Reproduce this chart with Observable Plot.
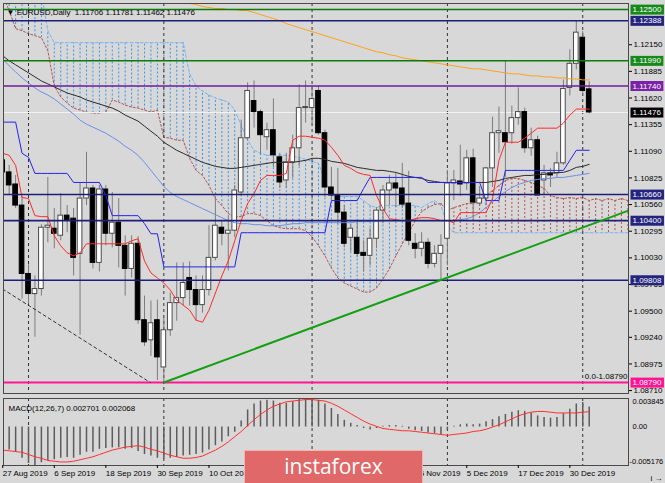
<!DOCTYPE html>
<html><head><meta charset="utf-8">
<script src="https://cdn.jsdelivr.net/npm/d3@7"></script>
<script src="https://cdn.jsdelivr.net/npm/@observablehq/plot@0.6"></script>
<style>
html,body{margin:0;padding:0;background:#d8d8d8;}
#wrap{position:relative;width:665px;height:483px;overflow:hidden;background:#d8d8d8;}
#wrap svg{display:block;}
#wm{position:absolute;left:244px;top:450px;width:179px;height:33px;background:#e06868;border:1px solid #f2b3b3;border-bottom:none;color:#fff;font:21px "Open Sans","Liberation Sans",sans-serif;text-align:center;line-height:31px;box-sizing:border-box;}
</style></head><body><div id="wrap"></div>
<script>
// ---------- DATA ----------
const dates = ["2019-08-27","2019-08-28","2019-08-29","2019-08-30","2019-09-02","2019-09-03","2019-09-04","2019-09-05","2019-09-06","2019-09-09",
"2019-09-10","2019-09-11","2019-09-12","2019-09-13","2019-09-16","2019-09-17","2019-09-18","2019-09-19","2019-09-20","2019-09-23",
"2019-09-24","2019-09-25","2019-09-26","2019-09-27","2019-09-30","2019-10-01","2019-10-02","2019-10-03","2019-10-04","2019-10-07",
"2019-10-08","2019-10-09","2019-10-10","2019-10-11","2019-10-14","2019-10-15","2019-10-16","2019-10-17","2019-10-18","2019-10-21",
"2019-10-22","2019-10-23","2019-10-24","2019-10-25","2019-10-28","2019-10-29","2019-10-30","2019-10-31","2019-11-01","2019-11-04",
"2019-11-05","2019-11-06","2019-11-07","2019-11-08","2019-11-11","2019-11-12","2019-11-13","2019-11-14","2019-11-15","2019-11-18",
"2019-11-19","2019-11-20","2019-11-21","2019-11-22","2019-11-25","2019-11-26","2019-11-27","2019-11-28","2019-11-29","2019-12-02",
"2019-12-03","2019-12-04","2019-12-05","2019-12-06","2019-12-09","2019-12-10","2019-12-11","2019-12-12","2019-12-13","2019-12-16",
"2019-12-17","2019-12-18","2019-12-19","2019-12-20","2019-12-23","2019-12-24","2019-12-26","2019-12-27","2019-12-30","2019-12-31",
"2020-01-02","2020-01-03"];
const open = [1.1100,1.1088,1.1076,1.1055,1.0987,1.0967,1.0972,1.1033,1.1032,1.1025,
1.1045,1.1042,1.1007,1.1062,1.1072,1.0998,1.1071,1.1027,1.1038,1.1015,
1.0992,1.1017,1.0941,1.0921,1.0941,1.0894,1.0931,1.0958,1.0963,1.0983,
1.0971,1.0956,1.0971,1.1003,1.1033,1.1027,1.1030,1.1068,1.1122,1.1159,
1.1148,1.1123,1.1130,1.1103,1.1080,1.1098,1.1112,1.1152,1.1152,1.1169,
1.1127,1.1073,1.1065,1.1048,1.1023,1.1023,1.1008,1.1005,1.1022,1.1050,
1.1070,1.1077,1.1072,1.1057,1.1017,1.1012,1.1018,1.0997,1.1007,1.1022,
1.1077,1.1079,1.1077,1.1102,1.1057,1.1062,1.1092,1.1127,1.1127,1.1127,
1.1142,1.1148,1.1112,1.1120,1.1080,1.1087,1.1087,1.1097,1.1172,1.1196,
1.1222,1.11706];
const high = [1.1115,1.1095,1.1085,1.1064,1.0996,1.0985,1.1036,1.1083,1.1052,1.1067,
1.1055,1.1052,1.1077,1.1108,1.1075,1.1075,1.1075,1.1068,1.1062,1.1025,
1.1025,1.1024,1.0965,1.0960,1.0961,1.0943,1.0968,1.0998,1.0998,1.0999,
1.0985,1.0985,1.1035,1.1063,1.1040,1.1045,1.1075,1.1140,1.1177,1.1179,
1.1150,1.1137,1.1161,1.1107,1.1107,1.1125,1.1175,1.1179,1.1174,1.1174,
1.1130,1.1093,1.1092,1.1055,1.1036,1.1040,1.1020,1.1032,1.1053,1.1075,
1.1085,1.1087,1.1097,1.1089,1.1027,1.1028,1.1022,1.1015,1.1026,1.1090,
1.1090,1.1115,1.1110,1.1111,1.1074,1.1093,1.1143,1.1153,1.1199,1.1154,
1.1172,1.1152,1.1132,1.1124,1.1095,1.1092,1.1108,1.1180,1.1210,1.1239,
1.1228,1.11781];
const low = [1.1076,1.1065,1.1052,1.0962,1.0957,1.0924,1.0965,1.1018,1.1012,1.1020,
1.1028,1.0985,1.0926,1.1055,1.0992,1.0989,1.1015,1.1013,1.0993,1.0965,
1.0983,1.0937,1.0915,1.0905,1.0881,1.0879,1.0925,1.0940,1.0955,1.0955,
1.0940,1.0948,1.0965,1.1000,1.1015,1.0990,1.1023,1.1064,1.1120,1.1132,
1.1106,1.1110,1.1093,1.1072,1.1072,1.1082,1.1094,1.1137,1.1135,1.1125,
1.1063,1.1060,1.1036,1.1013,1.1009,1.1003,1.0989,1.0995,1.1012,1.1037,
1.1055,1.1053,1.1052,1.1015,1.1002,1.1004,1.0992,1.0993,1.0981,1.0995,
1.1060,1.1064,1.1070,1.1040,1.1054,1.1055,1.1073,1.1107,1.1083,1.1116,
1.1135,1.1107,1.1104,1.1065,1.1066,1.1073,1.1083,1.1095,1.1164,1.1190,
1.1164,1.11462];
const close = [1.1088,1.1075,1.1055,1.0987,1.0967,1.0972,1.1033,1.1035,1.1027,1.1045,
1.1040,1.1003,1.1062,1.1072,1.0998,1.1071,1.1027,1.1038,1.1015,1.0992,
1.1017,1.0941,1.0919,1.0938,1.0904,1.0931,1.0958,1.0963,1.0978,1.0971,
1.0956,1.0971,1.1003,1.1035,1.1027,1.1030,1.1070,1.1122,1.1169,1.1148,
1.1125,1.1130,1.1105,1.1078,1.1098,1.1112,1.1152,1.1153,1.1161,1.1127,
1.1073,1.1065,1.1048,1.1017,1.1032,1.1007,1.1005,1.1022,1.1050,1.1070,
1.1077,1.1072,1.1056,1.1020,1.1012,1.1018,1.0997,1.1007,1.1015,1.1077,
1.1080,1.1076,1.1102,1.1058,1.1062,1.1092,1.1127,1.1129,1.1118,1.1142,
1.1148,1.1112,1.1120,1.1065,1.1087,1.1085,1.1097,1.1171,1.1196,1.1227,
1.1169,1.11476];

// Ichimoku
const tenkan = [1.1107,1.1105,1.1095,1.1063,1.1062,1.1045,1.1044,1.1044,1.1025,1.1015,
1.1008,1.1005,1.1008,1.1017,1.1017,1.1017,1.1017,1.1017,1.1017,1.1017,
1.1020,1.1022,1.1000,1.0988,1.0983,1.0978,1.0971,1.0961,1.0956,1.0951,
1.0941,1.0939,1.0951,1.0968,1.0985,1.1000,1.1020,1.1040,1.1057,1.1067,
1.1080,1.1085,1.1085,1.1085,1.1087,1.1120,1.1124,1.1124,1.1123,1.1122,
1.1120,1.1113,1.1105,1.1095,1.1092,1.1088,1.1086,1.1085,1.1065,1.1052,
1.1042,1.1041,1.1040,1.1040,1.1042,1.1043,1.1043,1.1042,1.1040,1.1040,
1.1038,1.1048,1.1048,1.1048,1.1048,1.1048,1.1062,1.1100,1.1118,1.1118,
1.1118,1.1122,1.1127,1.1132,1.1132,1.1132,1.1132,1.1137,1.1145,1.1151,
1.1151,1.1151];
const kijun = [1.1138,1.1138,1.1138,1.1107,1.1103,1.1087,1.1087,1.1087,1.1087,1.1087,
1.1087,1.1078,1.1078,1.1078,1.1078,1.1078,1.1065,1.1045,1.1045,1.1045,
1.1045,1.1045,1.1037,1.1027,1.1027,1.0994,1.0994,1.0994,1.0994,1.0994,
1.0994,1.0994,1.0994,1.0994,1.0994,1.0994,1.0994,1.1028,1.1028,1.1028,
1.1028,1.1028,1.1028,1.1028,1.1028,1.1028,1.1028,1.1028,1.1028,1.1028,
1.1028,1.1060,1.1060,1.1060,1.1060,1.1060,1.1072,1.1083,1.1083,1.1083,
1.1083,1.1083,1.1083,1.1083,1.1083,1.1083,1.1078,1.1078,1.1078,1.1078,
1.1078,1.1078,1.1078,1.1078,1.1078,1.1060,1.1060,1.1060,1.1090,1.1090,
1.1090,1.1090,1.1090,1.1090,1.1090,1.1090,1.1090,1.1090,1.1100,1.1110,
1.1110,1.1110];
// Senkou spans (shifted 26 bars forward: 98 values)
const spanA = [1.1264,1.1249,1.1231,1.1229,1.1226,1.1224,1.1222,1.1209,1.1174,1.1163,
1.1157,1.1152,1.1150,1.1148,1.1147,1.1147,1.1148,1.1160,1.1158,1.1155,
1.1153,1.1152,1.1150,1.1148,1.1150,1.1123,1.1122,1.1120,1.1120,1.1102,
1.1090,1.1085,1.1075,1.1062,1.1055,1.1047,1.1044,1.1044,1.1047,1.1047,
1.1045,1.1040,1.1035,1.1033,1.1032,1.1032,1.1032,1.1030,1.1024,1.1015,
1.1005,1.0993,1.0983,1.0978,1.0975,1.0972,1.0969,1.0969,1.0973,1.0982,
1.0992,1.1005,1.1017,1.1028,1.1040,1.1049,1.1053,1.1056,1.1057,1.1050,
1.1053,1.1055,1.1057,1.1057,1.1060,1.1065,1.1070,1.1075,1.1080,1.1082,
1.1082,1.1080,1.1078,1.1075,1.1072,1.1065,1.1063,1.1062,1.1063,1.1062,
1.1063,1.1060,1.1062,1.1060,1.1062,1.1060,1.1062,1.1060];
const spanB = [1.1265,1.1265,1.1265,1.1265,1.1265,1.1265,1.1265,1.1229,1.1217,1.1217,
1.1217,1.1217,1.1217,1.1217,1.1217,1.1217,1.1217,1.1217,1.1217,1.1217,
1.1217,1.1217,1.1217,1.1217,1.1217,1.1217,1.1217,1.1217,1.1217,1.1186,
1.1174,1.1169,1.1165,1.1162,1.1160,1.1158,1.1150,1.1135,1.1120,1.1110,
1.1107,1.1105,1.1105,1.1105,1.1105,1.1104,1.1103,1.1101,1.1099,1.1097,
1.1080,1.1065,1.1064,1.1064,1.1064,1.1064,1.1060,1.1055,1.1053,1.1055,
1.1055,1.1055,1.1055,1.1055,1.1055,1.1053,1.1057,1.1060,1.1055,1.1035,
1.1028,1.1028,1.1028,1.1028,1.1028,1.1028,1.1028,1.1028,1.1028,1.1028,
1.1028,1.1028,1.1028,1.1028,1.1028,1.1028,1.1028,1.1028,1.1028,1.1028,
1.1028,1.1028,1.1028,1.1028,1.1028,1.1028,1.1028,1.1028];
// moving averages
const maBlack = [1.1204,1.1199,1.1195,1.1191,1.1187,1.1183,1.1179,1.1176,1.1173,1.1170,
1.1167,1.1165,1.1163,1.1160,1.1158,1.1156,1.1154,1.1152,1.1149,1.1145,
1.1142,1.1139,1.1134,1.1129,1.1124,1.1118,1.1114,1.1110,1.1107,1.1104,
1.1101,1.1098,1.1096,1.1094,1.1093,1.1092,1.1092,1.1093,1.1094,1.1095,
1.1096,1.1097,1.1098,1.1098,1.1098,1.1098,1.1099,1.1100,1.1102,1.1102,
1.1101,1.1099,1.1098,1.1097,1.1095,1.1093,1.1092,1.1091,1.1090,1.1090,
1.1089,1.1088,1.1086,1.1084,1.1083,1.1082,1.1080,1.1079,1.1078,1.1078,
1.1078,1.1078,1.1078,1.1078,1.1078,1.1078,1.1079,1.1080,1.1082,1.1083,
1.1084,1.1085,1.1085,1.1086,1.1086,1.1087,1.1088,1.1088,1.1090,1.1093,
1.1094,1.1096];
const maBlue = [1.1201,1.1194,1.1188,1.1182,1.1177,1.1172,1.1168,1.1165,1.1161,1.1156,
1.1151,1.1146,1.1140,1.1136,1.1133,1.1130,1.1127,1.1123,1.1119,1.1114,
1.1110,1.1105,1.1098,1.1090,1.1082,1.1074,1.1068,1.1064,1.1061,1.1058,
1.1055,1.1052,1.1049,1.1046,1.1043,1.1040,1.1038,1.1037,1.1037,1.1036,
1.1036,1.1035,1.1035,1.1035,1.1036,1.1037,1.1037,1.1038,1.1038,1.1038,
1.1038,1.1038,1.1038,1.1038,1.1038,1.1039,1.1039,1.1039,1.1039,1.1040,
1.1040,1.1040,1.1040,1.1040,1.1040,1.1040,1.1040,1.1040,1.1040,1.1040,
1.1040,1.1041,1.1042,1.1044,1.1048,1.1053,1.1059,1.1064,1.1069,1.1073,
1.1076,1.1078,1.1080,1.1081,1.1082,1.1082,1.1083,1.1083,1.1084,1.1085,
1.1086,1.1087];
const maOrange = [null,null,null,null,null,null,null,null,null,null,
null,null,null,null,null,null,null,null,null,null,
null,null,null,null,null,null,null,null,1.1258,1.1256,
1.1255,1.1253,1.1252,1.1251,1.1251,1.1250,1.1250,1.1249,1.1249,1.1247,
1.1245,1.1243,1.1241,1.1239,1.1236,1.1234,1.1232,1.1230,1.1228,1.1226,
1.1224,1.1222,1.1220,1.1218,1.1216,1.1214,1.1212,1.1210,1.1208,1.1207,
1.1205,1.1204,1.1202,1.1201,1.1200,1.1199,1.1198,1.1197,1.1196,1.1195,
1.1194,1.1193,1.1192,1.1191,1.1191,1.1190,1.1189,1.1188,1.1187,1.1186,
1.1186,1.1185,1.1184,1.1184,1.1183,1.1183,1.1182,1.1182,1.1181,1.1181,
1.1180,1.1180];
// MACD(12,26,7)
const macdMain = [-0.0030,-0.0031,-0.0034,-0.0042,-0.0049,-0.005176,-0.0048,-0.0045,-0.0044,-0.0042,
-0.0041,-0.0042,-0.0038,-0.0034,-0.0034,-0.0030,-0.0029,-0.0028,-0.0028,-0.0030,
-0.0029,-0.0033,-0.0037,-0.0039,-0.0042,-0.0043,-0.0042,-0.0041,-0.0039,-0.0038,
-0.0037,-0.0035,-0.0031,-0.0025,-0.0020,-0.0013,-0.0007,0.0008,0.0023,0.0031,
0.0035,0.0036,0.0035,0.0032,0.0032,0.0034,0.0037,0.0037,0.003845,0.0036,
0.0031,0.0025,0.0017,0.0009,0.0005,0.0002,-0.0002,-0.0004,-0.0002,0.0001,
0.0002,0.0002,0.0001,-0.0003,-0.0005,-0.0006,-0.0008,-0.0009,-0.0010,-0.0004,
0.0001,0.0003,0.0004,0.0003,0.0004,0.0007,0.0010,0.0014,0.0017,0.0020,
0.0022,0.0021,0.0019,0.0015,0.0013,0.0012,0.0013,0.0018,0.0024,0.0031,
0.0033,0.002701];
const macdSignal = [-0.0031,-0.0032,-0.0033,-0.0034,-0.0037,-0.0040,-0.0042,-0.0045,-0.0046,-0.0047,
-0.0047,-0.0046,-0.0044,-0.0042,-0.0040,-0.0037,-0.0034,-0.0031,-0.0029,-0.0027,
-0.0026,-0.0025,-0.0027,-0.0030,-0.0032,-0.0035,-0.0038,-0.0040,-0.0042,-0.0042,
-0.0041,-0.0039,-0.0035,-0.0031,-0.0026,-0.0020,-0.0013,-0.0006,0.0002,0.0010,
0.0017,0.0023,0.0028,0.0031,0.0034,0.0035,0.0036,0.0037,0.0037,0.0036,
0.0035,0.0032,0.0028,0.0023,0.0018,0.0013,0.0008,0.0004,0.0001,-0.0002,
-0.0003,-0.0004,-0.0005,-0.0005,-0.0006,-0.0007,-0.0008,-0.0009,-0.0010,-0.0011,
-0.0010,-0.0009,-0.0008,-0.0006,-0.0005,-0.0003,0.0000,0.0003,0.0007,0.0011,
0.0015,0.0018,0.0020,0.0021,0.0021,0.0020,0.0019,0.0019,0.0019,0.0019,
0.0020,0.002068];
const macdRange = [-0.005176, 0.003845];

// levels & trend lines
const greenLevels = [1.12500, 1.11990];
const navyLevels = [1.12388, 1.10660, 1.10400, 1.09808];
const purpleLevels = [1.11740];
const fibLevels = [1.08790];
const lastPrice = 1.11476;
const trendUp = [{i:25, p:1.0879}, {i:97.1, p:1.1050}];
const trendDash = [{i:0, p:1.0972}, {i:22.9, p:1.0879}];

// axes
const priceRange = [1.08681, 1.12560];
const viewRange = [0.12, 97.1];
const priceTicks = [1.12150,1.11885,1.11620,1.11355,1.11090,1.10825,1.10560,1.10295,1.10030,1.09765,1.09500,1.09240,1.08975,1.08710];
const dateTickIdx = [0,8,16,24,32,40,48,56,64,72,80,88];
const titleText = "\u25BC EURUSD,Daily  1.11706 1.11781 1.11462 1.11476";
const macdTitle = "MACD(12,26,7) 0.002701 0.002068";
const fibText = "0.0-1.08790";

// ---------- CHECK ----------
const N = dates.length;
[open,high,low,close,tenkan,kijun,maBlack,maBlue,maOrange,macdMain,macdSignal].forEach((a,k)=>{ if(a.length!==N) throw new Error("len mismatch "+k+" "+a.length); });
if (spanA.length!==98 || spanB.length!==98) throw new Error("span len "+spanA.length+" "+spanB.length);

// ---------- BUILD ----------
const FONT = "'Liberation Sans', Arial, sans-serif";
const C = {bg:"#d8d8d8", green:"#0b7a0b", greenBox:"#17891a", navy:"#1e1e78", navyBox:"#24247e",
  purple:"#6c1c9c", purpleBox:"#7a23a8", fib:"#ff1493", bull:"#ffffff", bear:"#000000", wick:"#7c7c7c",
  tenkan:"#ff2a2a", kijun:"#2323f0", maBlack:"#2b2b2b", maBlue:"#6b8fe8", orange:"#ffa21a",
  cloudUp:"#b8524c", cloudDn:"#3b95ea", spanB:"#78b4f2", trend:"#12a012"};

const bars = dates.map((d,i)=>({i, o:open[i], h:high[i], l:low[i], c:close[i]}));
const cloud = spanA.map((a,i)=>({i, a, b:spanB[i]}));
const series = arr => arr.map((v,i)=>({i, v})).filter(d=>d.v!=null);
const monthStarts = dates.map((d,i)=> i>0 && d.slice(5,7)!==dates[i-1].slice(5,7) ? i : null).filter(v=>v!=null);
const levels = [
  ...greenLevels.map(p=>({p, g:"green"})),
  ...navyLevels.map(p=>({p, g:"navy"})),
  ...purpleLevels.map(p=>({p, g:"purple"})),
  ...fibLevels.map(p=>({p, g:"fib"}))];
const lineColor = {green:C.green, navy:C.navy, purple:C.purple, fib:C.fib};
const boxColor = {green:C.greenBox, navy:C.navyBox, purple:C.purpleBox, fib:C.fib, last:"#000"};
const boxLabels = [...levels, {p:lastPrice, g:"last"}];
const fmtDate = d3.utcFormat("%-d %b %Y");
const BW = 0.36;

const main = Plot.plot({
  width:665, height:395, marginLeft:3, marginRight:37, marginTop:3, marginBottom:2,
  style:{background:C.bg, fontFamily:FONT, fontSize:"8px", overflow:"visible"},
  x:{domain:viewRange, axis:null},
  y:{domain:priceRange, axis:null},
  marks:[
    Plot.ruleX(cloud, {x:"i", y1:"a", y2:"b", stroke:d=>d.a>=d.b?C.cloudUp:C.cloudDn, strokeWidth:1, strokeDasharray:"2,2", clip:true}),
    Plot.line(cloud, {x:"i", y:"a", stroke:C.cloudUp, strokeWidth:1, strokeDasharray:"2,2", clip:true}),
    Plot.line(cloud, {x:"i", y:"b", stroke:C.spanB, strokeWidth:1, strokeDasharray:"3,2", clip:true}),
    Plot.ruleX(monthStarts, {x:d=>d, stroke:"#333", strokeWidth:1, strokeDasharray:"3,3"}),
    Plot.ruleY([lastPrice], {y:d=>d, stroke:"#f2f2f2", strokeWidth:1}),
    Plot.ruleX(bars, {x:"i", y1:"l", y2:"h", stroke:C.wick, strokeWidth:1, clip:true}),
    Plot.rect(bars, {x1:d=>d.i-BW, x2:d=>d.i+BW, y1:"o", y2:"c", fill:d=>d.c>=d.o?C.bull:C.bear, stroke:d=>d.c>=d.o?"#4a4a4a":"#000", strokeWidth:1, clip:true}),
    Plot.ruleY(bars.filter(d=>Math.abs(d.c-d.o)<0.00006), {x1:d=>d.i-BW, x2:d=>d.i+BW, y:"c", stroke:"#222", clip:true}),
    Plot.line(series(maOrange), {x:"i", y:"v", stroke:C.orange, strokeWidth:1, clip:true}),
    Plot.line(series(maBlue), {x:"i", y:"v", stroke:C.maBlue, strokeWidth:1, clip:true}),
    Plot.line(series(maBlack), {x:"i", y:"v", stroke:C.maBlack, strokeWidth:1, clip:true}),
    Plot.line(series(kijun), {x:"i", y:"v", stroke:C.kijun, strokeWidth:1, clip:true}),
    Plot.line(series(tenkan), {x:"i", y:"v", stroke:C.tenkan, strokeWidth:1, clip:true}),
    Plot.ruleY(levels, {y:"p", stroke:d=>lineColor[d.g], strokeWidth:d=>d.g==="fib"?2:1.6}),
    Plot.line(trendUp, {x:"i", y:"p", stroke:C.trend, strokeWidth:2, clip:true}),
    Plot.line(trendDash, {x:"i", y:"p", stroke:"#333", strokeWidth:1, strokeDasharray:"3,3", clip:true}),
    Plot.frame({stroke:"#4a4a4a", strokeWidth:1}),
    Plot.axisY({anchor:"right", ticks:priceTicks, tickFormat:d=>d.toFixed(5), tickSize:3, tickPadding:2, fontSize:8, fill:"#000", stroke:"#000"}),
    Plot.text(boxLabels, {y:"p", text:d=>d.p.toFixed(5), frameAnchor:"right", textAnchor:"start", dx:4, fill:"#fff", fontSize:8}),
    Plot.text([titleText], {text:d=>d, frameAnchor:"top-left", textAnchor:"start", dx:3, dy:6, fontSize:8, fill:"#000"}),
    Plot.text([fibLevels[0]], {y:d=>d, text:()=>fibText, frameAnchor:"right", textAnchor:"end", dx:-1, dy:-6, fontSize:8, fill:"#000"})
  ]
});

const macd = Plot.plot({
  width:665, height:88, marginLeft:3, marginRight:37, marginTop:3, marginBottom:18,
  style:{background:C.bg, fontFamily:FONT, fontSize:"8px", overflow:"visible"},
  x:{domain:viewRange, axis:null},
  y:{domain:macdRange, axis:null},
  marks:[
    Plot.ruleX(monthStarts, {x:d=>d, stroke:"#333", strokeWidth:1, strokeDasharray:"3,3"}),
    Plot.ruleX(series(macdMain), {x:"i", y1:0, y2:"v", stroke:"#5c5c5c", strokeWidth:1.5, clip:true}),
    Plot.line(series(macdSignal), {x:"i", y:"v", stroke:"#ff3030", strokeWidth:1, clip:true}),
    Plot.frame({stroke:"#4a4a4a", strokeWidth:1}),
    Plot.text([macdTitle], {text:d=>d, frameAnchor:"top-left", textAnchor:"start", dx:5, dy:7, fontSize:8, fill:"#000"}),
    Plot.text([macdRange[1]], {y:d=>d, text:d=>d.toFixed(6), frameAnchor:"right", textAnchor:"start", dx:4, dy:3, fontSize:7.5, fill:"#000"}),
    Plot.text([0], {y:d=>d, text:()=>"0.00", frameAnchor:"right", textAnchor:"start", dx:4, fontSize:7.5, fill:"#000"}),
    Plot.text([macdRange[0]], {y:d=>d, text:d=>d.toFixed(6), frameAnchor:"right", textAnchor:"start", dx:1, dy:-4, fontSize:7.5, fill:"#000"}),
    Plot.axisX({anchor:"bottom", ticks:dateTickIdx, tickFormat:i=>fmtDate(new Date(dates[i])), tickSize:3, tickPadding:2, textAnchor:"start", fontSize:8, fill:"#000", stroke:"#000"})
  ]
});

const wrap = document.getElementById("wrap");
wrap.appendChild(main);
wrap.appendChild(macd);
const wm = document.createElement("div"); wm.id="wm"; wm.textContent="instaforex"; wrap.appendChild(wm);

// colored boxes behind the level labels (matched by their text)
const boxByText = new Map(boxLabels.map(d=>[d.p.toFixed(5), boxColor[d.g]]));
main.querySelectorAll("text").forEach(t=>{
  const col = boxByText.get(t.textContent);
  if (!col || t.closest("g[aria-label='y-axis tick label']")) return;
  const b = t.getBBox();
  const r = document.createElementNS("http://www.w3.org/2000/svg","rect");
  r.setAttribute("x", b.x-2); r.setAttribute("y", b.y-0.5);
  r.setAttribute("width", b.width+4); r.setAttribute("height", b.height+1);
  r.setAttribute("fill", col);
  if (t.getAttribute("transform")) r.setAttribute("transform", t.getAttribute("transform"));
  t.parentNode.insertBefore(r, t);
});
</script></body></html>
